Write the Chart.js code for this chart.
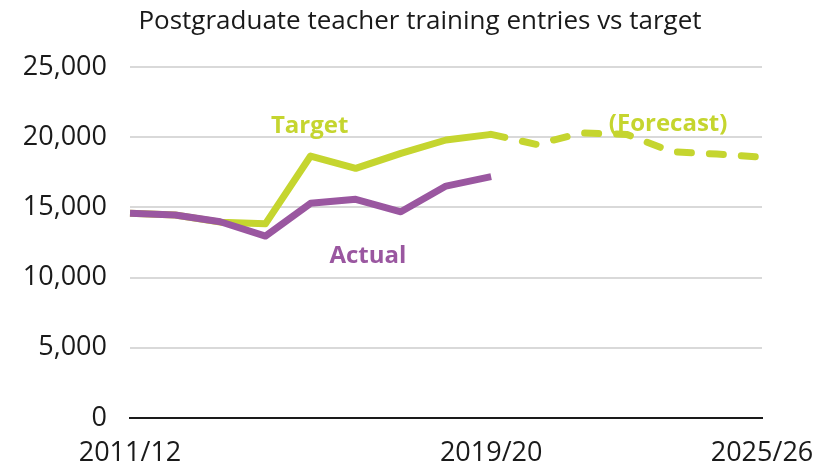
<!DOCTYPE html>
<html>
<head>
<meta charset="utf-8">
<script src="https://cdn.jsdelivr.net/npm/chart.js@4"></script>
<style>
  html, body { margin: 0; padding: 0; background: #fff; }
  #wrap { width: 819px; height: 462px; }
</style>
</head>
<body>
<div id="wrap"><canvas id="myChart" width="819" height="462"></canvas></div>
<script>
const gYears = ['2011/12', '2012/13', '2013/14', '2014/15', '2015/16', '2016/17', '2017/18', '2018/19',
  '2019/20', '2020/21', '2021/22', '2022/23', '2023/24', '2024/25', '2025/26']
const gShownYears = ['2011/12', '2019/20', '2025/26']

const gActual = [14580, 14460, 13980, 12960, 15290, 15580, 14690, 16520, 17190,
  null, null, null, null, null, null]
const gTarget = [14580, 14460, 13950, 13830, 18660, 17780, 18850, 19800, 20200,
  null, null, null, null, null, null]
const gForecast = [null, null, null, null, null, null, null, null, 20200,
  19490, 20300, 20200, 18970, 18800, 18570]

const gYTicks = [0, 5000, 10000, 15000, 20000, 25000]

// text labels placed in data coordinates (category index, value)
const gNotes = [
  { text: 'Target', x: 3.98, y: 20800, color: '#c5d52f' },
  { text: 'Actual', x: 5.27, y: 11540, color: '#9a57a0' },
  { text: '(Forecast)', x: 11.92, y: 20940, color: '#c5d52f' }
]

const gGreen = '#c5d52f'
const gPurple = '#9a57a0'
const gFont = "'Open Sans', sans-serif"

const notesPlugin = {
  id: 'notes',
  afterDraw(chart) {
    const ctx = chart.ctx
    const xs = chart.scales.x
    const ys = chart.scales.y
    ctx.save()
    ctx.textAlign = 'center'
    ctx.textBaseline = 'middle'
    ctx.font = `bold 24px ${gFont}`
    gNotes.forEach(n => {
      ctx.fillStyle = n.color
      ctx.fillText(n.text, xs.getPixelForValue(n.x), ys.getPixelForValue(n.y))
    })
    // chart title
    ctx.font = `26px ${gFont}`
    ctx.fillStyle = '#1a1a1a'
    ctx.fillText('Postgraduate teacher training entries vs target', 420, 22)
    ctx.restore()
  }
}

function displayChart() {
  const ctx = document.getElementById('myChart').getContext('2d')
  new Chart(ctx, {
    type: 'line',
    data: {
      labels: gYears,
      datasets: [{
        label: 'Actual',
        data: gActual,
        borderColor: gPurple,
        borderWidth: 7,
        order: 1
      }, {
        label: 'Target',
        data: gTarget,
        borderColor: gGreen,
        borderWidth: 7,
        order: 2
      }, {
        label: 'Forecast',
        data: gForecast,
        borderColor: gGreen,
        borderWidth: 7,
        borderDash: [14, 18],
        borderCapStyle: 'round',
        order: 3
      }]
    },
    options: {
      responsive: false,
      animation: false,
      spanGaps: false,
      elements: {
        point: { radius: 0 },
        line: { tension: 0, borderJoinStyle: 'round', borderCapStyle: 'butt' }
      },
      layout: { padding: { top: 67, right: 57, left: 0, bottom: 0 } },
      scales: {
        x: {
          offset: false,
          grid: { color: 'transparent', drawTicks: false },
          border: { display: true, color: '#1a1a1a', width: 2 },
          ticks: {
            autoSkip: false,
            maxRotation: 0,
            padding: 19,
            color: '#1a1a1a',
            font: { family: gFont, size: 27 },
            callback: function (value) {
              const lbl = this.getLabelForValue(value)
              return gShownYears.includes(lbl) ? lbl : ''
            }
          },
          afterFit(scale) {
            scale.height = 44
            scale.paddingLeft = 0
            scale.paddingRight = 0
          }
        },
        y: {
          min: 0,
          max: 25000,
          afterBuildTicks(scale) { scale.ticks = gYTicks.map(v => ({ value: v })) },
          grid: { color: '#d9d9d9', lineWidth: 2, drawTicks: false },
          border: { display: false },
          ticks: {
            padding: 23,
            color: '#1a1a1a',
            font: { family: gFont, size: 27 },
            callback: value => value.toLocaleString('en-US')
          },
          afterFit(scale) { scale.width = 130 }
        }
      },
      plugins: {
        legend: { display: false },
        title: { display: false },
        tooltip: { enabled: false }
      }
    },
    plugins: [notesPlugin]
  })
}

displayChart()
</script>
</body>
</html>
